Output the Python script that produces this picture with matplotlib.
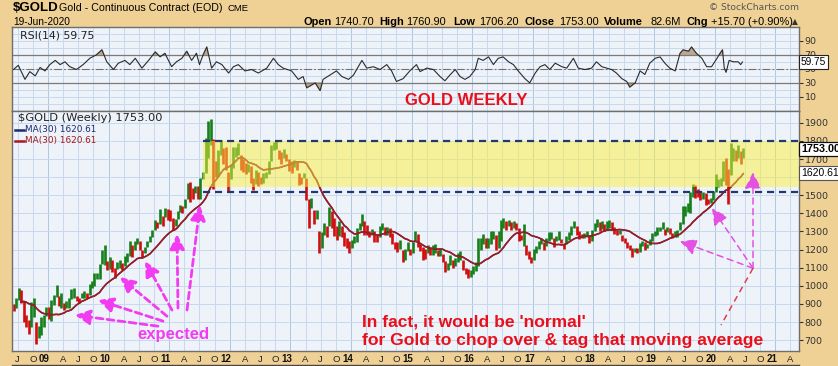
import matplotlib
matplotlib.use("Agg")
import matplotlib.pyplot as plt
import matplotlib.transforms as mtransforms
from matplotlib.lines import Line2D
import numpy as np
import pandas as pd

period_start = "2007-12-15"
lows = [
    800, 840, 870, 880, 900, 960, 890, 900, 870, 850, 890, 860, 880, 920, 905, 800, 775, 735, 770, 830, 680, 710, 730, 770, 835,  # 07/08
    815, 805, 895, 940, 890, 880, 865, 880, 880, 925, 930, 915, 905, 935, 935, 935, 950, 990, 1000, 1035, 1040, 1120, 1115, 1085,  # 09
    1095, 1075, 1045, 1095, 1100, 1085, 1110, 1130, 1165, 1160, 1200, 1230, 1195, 1155, 1180, 1215, 1240, 1270, 1310, 1320, 1340, 1330, 1380, 1365,  # 10
    1360, 1310, 1330, 1370, 1405, 1400, 1430, 1480, 1460, 1480, 1510, 1480, 1480, 1590, 1620, 1705, 1780, 1535, 1600, 1605, 1720, 1670, 1640, 1525,  # 11
    1590, 1650, 1710, 1720, 1640, 1630, 1615, 1630, 1570, 1530, 1560, 1550, 1560, 1570, 1595, 1615, 1690, 1750, 1755, 1700, 1675, 1705, 1690, 1635,  # 12
    1625, 1655, 1640, 1555, 1560, 1595, 1475, 1320, 1430, 1340, 1370, 1180, 1210, 1280, 1270, 1330, 1320, 1275, 1255, 1275, 1270, 1220, 1210, 1180,  # 13
    1210, 1235, 1240, 1310, 1330, 1280, 1280, 1270, 1280, 1240, 1240, 1270, 1310, 1280, 1280, 1270, 1230, 1205, 1185, 1205, 1130, 1140, 1190, 1170,  # 14
    1180, 1250, 1215, 1190, 1145, 1150, 1180, 1170, 1170, 1180, 1165, 1165, 1130, 1075, 1085, 1115, 1100, 1110, 1130, 1140, 1085, 1065, 1045, 1050,  # 15
    1065, 1080, 1110, 1195, 1230, 1210, 1210, 1230, 1260, 1200, 1210, 1250, 1320, 1310, 1330, 1310, 1320, 1310, 1245, 1255, 1220, 1170, 1150, 1125,  # 16
    1145, 1180, 1205, 1230, 1195, 1220, 1245, 1260, 1215, 1245, 1255, 1235, 1205, 1230, 1255, 1280, 1320, 1280, 1260, 1265, 1265, 1270, 1235, 1250,  # 17
    1300, 1325, 1305, 1315, 1305, 1310, 1320, 1310, 1285, 1280, 1285, 1245, 1235, 1210, 1195, 1160, 1185, 1180, 1185, 1220, 1200, 1210, 1225, 1245,  # 18
    1275, 1280, 1305, 1315, 1280, 1295, 1285, 1265, 1270, 1270, 1310, 1340, 1385, 1410, 1400, 1490, 1485, 1490, 1475, 1480, 1445, 1450, 1455, 1475,  # 19
    1520, 1545, 1550, 1580, 1555, 1450, 1610, 1690, 1690, 1705, 1670, 1706,  # 20
]
highs = [
    840, 900, 930, 925, 970, 1015, 1035, 950, 930, 900, 935, 900, 930, 990, 975, 915, 840, 810, 910, 935, 800, 780, 825, 840, 885,
    885, 920, 950, 1005, 945, 960, 905, 915, 930, 980, 990, 945, 935, 960, 970, 960, 1010, 1025, 1070, 1070, 1120, 1195, 1225, 1135,
    1160, 1140, 1100, 1130, 1140, 1125, 1165, 1180, 1250, 1225, 1250, 1265, 1245, 1200, 1215, 1245, 1275, 1310, 1365, 1350, 1425, 1385, 1430, 1425,
    1420, 1375, 1370, 1415, 1445, 1440, 1480, 1570, 1575, 1540, 1550, 1550, 1595, 1630, 1815, 1910, 1920, 1810, 1690, 1750, 1805, 1760, 1765, 1630,
    1665, 1765, 1765, 1790, 1720, 1700, 1680, 1670, 1660, 1595, 1640, 1630, 1600, 1625, 1630, 1690, 1775, 1795, 1800, 1750, 1740, 1755, 1725, 1700,
    1690, 1695, 1685, 1620, 1600, 1620, 1595, 1480, 1485, 1420, 1420, 1300, 1295, 1345, 1330, 1435, 1415, 1375, 1330, 1360, 1330, 1295, 1265, 1245,
    1255, 1275, 1320, 1345, 1395, 1355, 1335, 1305, 1315, 1300, 1280, 1330, 1345, 1325, 1325, 1320, 1290, 1240, 1240, 1255, 1200, 1205, 1240, 1205,
    1240, 1305, 1285, 1230, 1215, 1205, 1225, 1215, 1225, 1230, 1200, 1205, 1175, 1135, 1125, 1170, 1145, 1155, 1180, 1190, 1145, 1100, 1090, 1085,
    1110, 1130, 1265, 1265, 1285, 1265, 1265, 1305, 1305, 1280, 1300, 1365, 1375, 1360, 1365, 1350, 1355, 1345, 1320, 1280, 1340, 1225, 1190, 1160,
    1205, 1220, 1245, 1265, 1240, 1265, 1295, 1295, 1265, 1275, 1300, 1260, 1230, 1275, 1295, 1330, 1360, 1330, 1305, 1285, 1290, 1300, 1280, 1310,
    1345, 1370, 1350, 1360, 1340, 1355, 1365, 1350, 1325, 1310, 1310, 1280, 1265, 1240, 1225, 1210, 1210, 1210, 1235, 1245, 1240, 1230, 1260, 1290,
    1300, 1325, 1325, 1350, 1315, 1325, 1320, 1290, 1300, 1310, 1350, 1440, 1440, 1455, 1520, 1560, 1555, 1535, 1520, 1520, 1515, 1480, 1485, 1525,
    1615, 1590, 1595, 1690, 1705, 1645, 1790, 1760, 1750, 1775, 1745, 1761,
]

# ---- RSI(14): (decimal year, value)
rsi_t = [2008.43, 2008.51, 2008.62, 2008.70, 2008.79, 2008.87, 2008.95, 2009.03, 2009.12, 2009.20,
         2009.28, 2009.36, 2009.47, 2009.58, 2009.69, 2009.80, 2009.89, 2009.97, 2010.08, 2010.16,
         2010.27, 2010.35, 2010.44, 2010.55, 2010.66, 2010.77, 2010.85, 2010.93, 2011.04, 2011.12,
         2011.21, 2011.29, 2011.37, 2011.45, 2011.50, 2011.56, 2011.62, 2011.70, 2011.78, 2011.87,
         2011.98, 2012.06, 2012.14, 2012.25, 2012.36, 2012.47, 2012.61, 2012.72, 2012.80, 2012.88,
         2013.02, 2013.13, 2013.21, 2013.27, 2013.35, 2013.41, 2013.49, 2013.54, 2013.65, 2013.76,
         2013.85, 2013.96, 2014.04, 2014.12, 2014.18, 2014.26, 2014.37, 2014.48, 2014.59, 2014.67,
         2014.75, 2014.86, 2014.97, 2015.08, 2015.14, 2015.25, 2015.36, 2015.47, 2015.55, 2015.63,
         2015.72, 2015.80, 2015.88, 2015.96, 2016.05, 2016.10, 2016.18, 2016.27, 2016.35, 2016.43,
         2016.51, 2016.60, 2016.68, 2016.76, 2016.87, 2016.95, 2017.04, 2017.12, 2017.20, 2017.28,
         2017.37, 2017.48, 2017.56, 2017.67, 2017.75, 2017.86, 2017.97, 2018.05, 2018.14, 2018.22,
         2018.30, 2018.38, 2018.47, 2018.55, 2018.60, 2018.69, 2018.77, 2018.85, 2018.93, 2019.02,
         2019.10, 2019.18, 2019.26, 2019.35, 2019.43, 2019.48, 2019.57, 2019.62, 2019.70, 2019.79,
         2019.87, 2019.95, 2020.04, 2020.09, 2020.13, 2020.16, 2020.19, 2020.24, 2020.31, 2020.39,
         2020.43, 2020.46]
rsi_v = [49, 55, 35, 46, 40, 52, 47, 56, 62, 56,
         60, 53, 49, 56, 65, 70, 77, 60, 49, 58,
         62, 56, 65, 51, 62, 74, 67, 72, 53, 60,
         65, 75, 62, 72, 56, 70, 81, 51, 60, 56,
         44, 53, 56, 47, 49, 44, 51, 65, 56, 51,
         47, 35, 39, 23, 27, 30, 19, 35, 41, 47,
         39, 35, 41, 53, 62, 51, 53, 49, 56, 47,
         32, 36, 47, 56, 46, 51, 49, 39, 33, 41,
         49, 39, 35, 39, 49, 65, 62, 67, 56, 65,
         67, 60, 56, 47, 36, 30, 44, 53, 56, 49,
         58, 53, 51, 65, 51, 49, 51, 60, 53, 51,
         49, 44, 36, 32, 24, 30, 47, 42, 58, 65,
         67, 58, 51, 47, 72, 77, 75, 81, 72, 65,
         53, 53, 65, 72, 77, 51, 45, 62, 60, 60,
         56, 59.75]

price_ticks = [700, 800, 900, 1000, 1100, 1200, 1300, 1400, 1500, 1600, 1700, 1800, 1900]
rsi_ticks = [10, 30, 50, 70, 90]

# ---- styling
BG = "#efd195"
PANEL = "#eef3fa"
GRID = "#c7d9ed"
GRID_Y = "#aec7e2"
EDGE = "#6e6e6e"
GREEN = "#16801a"
RED = "#d10d0d"
MAGENTA = "#f23cf2"
TXT_RED = "#e8101c"
SANS = "Liberation Sans"
X0, X1 = 2008.406, 2021.393

W, H = 838, 366
fig = plt.figure(figsize=(W / 100, H / 100), dpi=100, facecolor=BG)


def fx(x):
    return x / W


def fy(y):
    return 1 - y / H


ax_r = fig.add_axes([fx(12), fy(111), fx(799) - fx(12), fy(27) - fy(111)])
ax_p = fig.add_axes([fx(12), fy(351), fx(799) - fx(12), fy(111) - fy(351)])

quarters = [y + q / 4 for y in range(2008, 2022) for q in range(4) if X0 <= y + q / 4 <= X1]

for ax in (ax_r, ax_p):
    ax.set_facecolor(PANEL)
    ax.set_xlim(X0, X1)
    for q in quarters:
        ax.axvline(q, color=GRID_Y if q == int(q) else GRID, lw=0.7, zorder=0)
    ax.set_xticks([])
    for s in ax.spines.values():
        s.set_color(EDGE)
        s.set_linewidth(1.0)
    ax.yaxis.tick_right()
    ax.tick_params(axis="y", direction="out", length=3, width=0.8, pad=1,
                   labelsize=6.8, colors="#333333")

# ---- RSI panel
ax_r.set_ylim(-10, 109.5)
for v in range(0, 101, 10):
    ax_r.axhline(v, color=GRID, lw=0.7, zorder=0)
rt = np.array(rsi_t)
rv = np.array(rsi_v, dtype=float)
ax_r.fill_between(rt, rv, 70, where=rv > 70, interpolate=True, color="#bca992", zorder=1)
ax_r.fill_between(rt, rv, 30, where=rv < 30, interpolate=True, color="#bca992", zorder=1)
ax_r.axhline(70, color="#7a7a7a", lw=0.9, zorder=1)
ax_r.axhline(30, color="#7a7a7a", lw=0.9, zorder=1)
ax_r.axhline(50, color="#707070", lw=0.8, ls=(0, (7, 2, 1.5, 2)), zorder=1)
ax_r.plot(rt, rv, color="#2b2b2b", lw=0.8, zorder=2)
ax_r.set_yticks(rsi_ticks)

# ---- price panel
ax_p.set_ylim(640, 1965)
for v in price_ticks:
    ax_p.axhline(v, color=GRID, lw=0.7, zorder=0)
ax_p.set_yticks(price_ticks)
ax_p.set_yticklabels(["" if v == 1600 else str(v) for v in price_ticks])

dates = pd.date_range(period_start, periods=len(lows), freq="SMS") + pd.Timedelta(days=7)
t = np.array([d.year + (d.dayofyear - 1) / (366 if d.is_leap_year else 365) for d in dates])
lo = np.array(lows, dtype=float)
hi = np.array(highs, dtype=float)
mid = (lo + hi) / 2
up = np.r_[True, mid[1:] >= mid[:-1]]
ax_p.vlines(t, lo, hi, colors=np.where(up, GREEN, RED), lw=1.9, zorder=2)
ma30 = pd.Series(mid).rolling(15).mean().values
ax_p.plot(t, ma30, color="#1b2a6b", lw=1.1, zorder=3)
ax_p.plot(t, ma30, color="#a8191b", lw=1.1, zorder=3)

# trading range box
box_left = 2011.56
ax_p.fill_between([box_left, X1], 1545, 1800, color="#fbf03c", alpha=0.5, lw=0, zorder=4)
ax_p.hlines([1800, 1520], box_left, X1, colors="#22386e", linestyles=(0, (3.2, 2.2)), lw=1.6, zorder=5)

# arrows: (tip, tail) in (year, price)
left_arrows = [((2009.446, 838), (2010.815, 777)),
               ((2009.825, 921), (2010.898, 805)),
               ((2010.188, 1048), (2010.964, 832)),
               ((2010.601, 1136), (2011.046, 866)),
               ((2011.129, 1285), (2011.145, 877)),
               ((2011.508, 1445), (2011.294, 866))]
for tip, tail in left_arrows:
    ax_p.annotate("", xy=tip, xytext=tail, zorder=6,
                  arrowprops=dict(arrowstyle="-|>,head_length=0.9,head_width=0.45",
                                  color=MAGENTA, lw=2.0, ls=(0, (2.5, 1.5)),
                                  shrinkA=0, shrinkB=0))
hub = (2020.634, 1097)
for tip in [(2019.429, 1246), (2019.957, 1429), (2020.634, 1627)]:
    ax_p.annotate("", xy=tip, xytext=hub, zorder=6,
                  arrowprops=dict(arrowstyle="-|>,head_length=1.0,head_width=0.5",
                                  color="#e44fe4", lw=1.1, ls=(0, (4, 3)),
                                  shrinkA=0, shrinkB=0))
ax_p.plot([hub[0], 2020.106], [hub[1], 783], color="#e23a52", lw=1.1, ls=(0, (4, 3)), zorder=6)

# ---- bottom date labels
lab_tr = mtransforms.blended_transform_factory(ax_p.transData, ax_p.transAxes)
month_letter = {0.25: "A", 0.5: "J", 0.75: "O"}
for q in quarters:
    frac = round(q - int(q), 2)
    if frac == 0:
        tr = lab_tr + mtransforms.ScaledTranslation(-0.035, -0.085, fig.dpi_scale_trans)
        ax_p.text(q, 0, f"{int(q) % 100:02d}", transform=tr, ha="center", va="center",
                  fontsize=7, fontweight="bold", family=SANS, color="#111111", clip_on=False)
    else:
        tr = lab_tr + mtransforms.ScaledTranslation(0, -0.085, fig.dpi_scale_trans)
        ax_p.text(q, 0, month_letter[frac], transform=tr, ha="center", va="center",
                  fontsize=6.8, family=SANS, color="#222222", clip_on=False)
fig.add_artist(Line2D([fx(12), fx(799)], [fy(365.3)] * 2, color="#444444", lw=1.0))

# ---- header
fig.text(fx(13), fy(8), "$GOLD", fontsize=9.5, fontweight="bold", family=SANS, va="center")
fig.text(fx(59), fy(8), "Gold - Continuous Contract (EOD)", fontsize=7.7, family=SANS, va="center")
fig.text(fx(227), fy(8.5), "CME", fontsize=6.8, family=SANS, va="center")
fig.text(fx(13), fy(22), "19-Jun-2020", fontsize=7.3, family=SANS, va="center")
header = [(303, "Open", True), (334, "1740.70", False), (379, "High", True), (406, "1760.90", False),
          (453, "Low", True), (479, "1706.20", False), (524, "Close", True), (559, "1753.00", False),
          (604, "Volume", True), (650, "82.6M", False), (686, "Chg", True), (711, "+15.70 (+0.90%)", False)]
for x, s, bold in header:
    fig.text(fx(x), fy(22), s, fontsize=7.9, family=SANS, va="center",
             fontweight="bold" if bold else "normal")
fig.text(fx(792), fy(21.5), "▲", fontsize=5.5, family="DejaVu Sans", va="center", color="#333333")
fig.text(fx(799), fy(8), "© StockCharts.com", fontsize=6.6, family="DejaVu Sans", va="center",
         ha="right", color="#555555")

# ---- panel legends
fig.text(fx(20), fy(35), "RSI(14) 59.75", fontsize=7.8, family="DejaVu Sans", va="center", color="#222222")
fig.text(fx(18), fy(118), "$GOLD (Weekly) 1753.00", fontsize=8.2, family="DejaVu Sans", va="center", color="#222222")
fig.text(fx(25), fy(129.5), "MA(30) 1620.61", fontsize=6.4, family="DejaVu Sans", va="center", color="#1b2a6b")
fig.text(fx(25), fy(141), "MA(30) 1620.61", fontsize=6.4, family="DejaVu Sans", va="center", color="#a8191b")
fig.add_artist(Line2D([fx(15), fx(24)], [fy(129.5)] * 2, color="#1b2a6b", lw=1.8))
fig.add_artist(Line2D([fx(15), fx(24)], [fy(141)] * 2, color="#a8191b", lw=1.8))

# ---- value boxes on the right axis
fig.text(fx(801), fy(62), "59.75", fontsize=7.3, family=SANS, va="center", zorder=10,
         bbox=dict(boxstyle="square,pad=0.15", fc="white", ec="#222222", lw=0.8))
fig.text(fx(801), fy(149), "1753.00", fontsize=7.8, family=SANS, fontweight="bold", va="center", zorder=10,
         bbox=dict(boxstyle="square,pad=0.15", fc="white", ec="#111111", lw=0.9))
fig.text(fx(801), fy(173), "1620.61", fontsize=7.5, family=SANS, va="center", zorder=10,
         bbox=dict(boxstyle="square,pad=0.15", fc="white", ec="#555555", lw=0.8))

# ---- annotations
fig.text(fx(466), fy(100), "GOLD WEEKLY", fontsize=12, fontweight="bold", family=SANS,
         color=TXT_RED, ha="center", va="center")
fig.text(fx(173), fy(334), "expected", fontsize=12, fontweight="bold", family=SANS,
         color=MAGENTA, ha="center", va="center")
fig.text(fx(362), fy(322), "In fact, it would be 'normal'", fontsize=12.6, fontweight="bold",
         family=SANS, color=TXT_RED, va="center")
fig.text(fx(362), fy(340), "for Gold to chop over & tag that moving average", fontsize=12.6,
         fontweight="bold", family=SANS, color=TXT_RED, va="center")

fig.savefig("out.png", dpi=100, facecolor=BG)
